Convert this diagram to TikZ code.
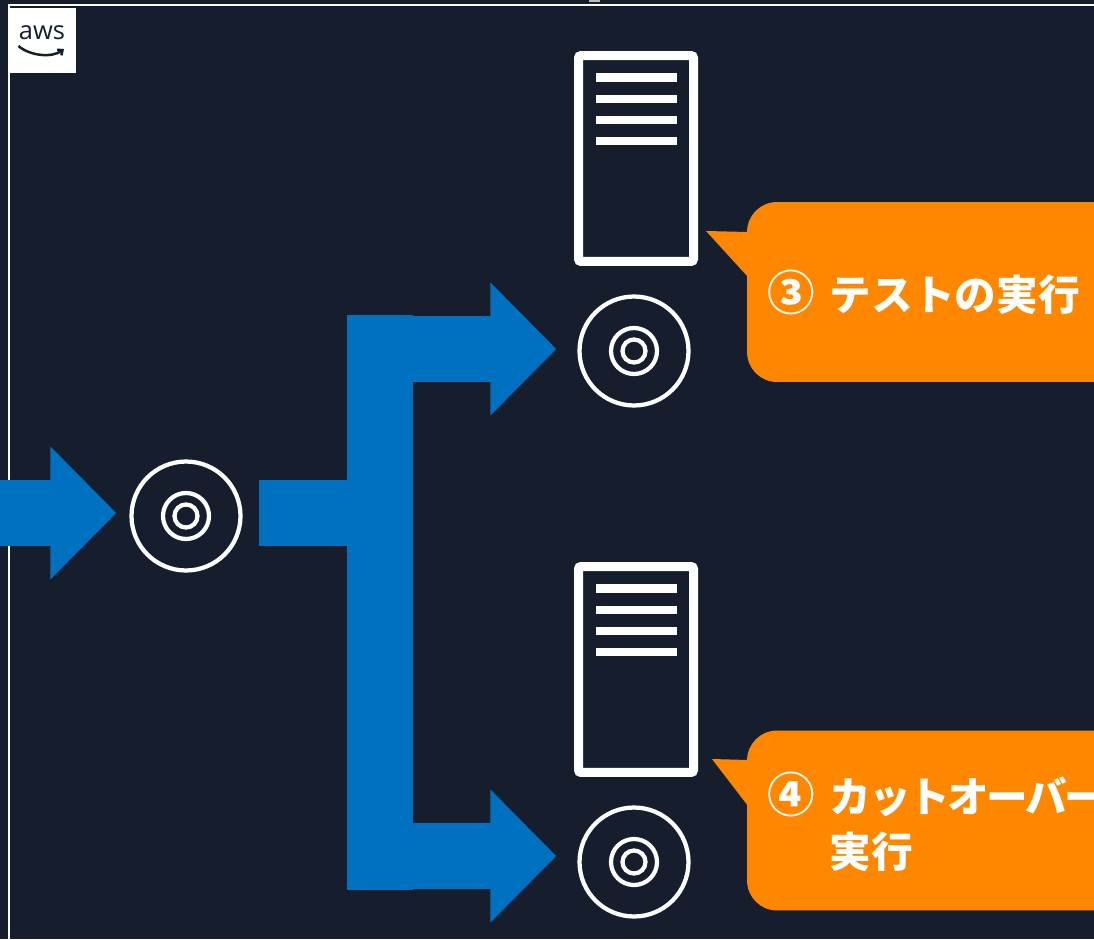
\documentclass[tikz,border=0pt]{standalone}
\usepackage{fontspec}
\setsansfont{Open Sans}
\newfontfamily\jpfont{Noto Sans CJK JP}
\usetikzlibrary{arrows.meta}

\definecolor{squid}{HTML}{161E2D}
\definecolor{flowblue}{HTML}{0070C0}
\definecolor{noteorange}{HTML}{FF8700}

\newcommand{\stepnum}[1]{\makebox[1.25cm][l]{\fontsize{27}{27}\selectfont #1}}

\tikzset{
	disc/.style={circle,draw=white,line width=0.085cm,minimum size=2.18cm,inner sep=0pt,
		path picture={
			\draw[white,line width=0.085cm] (path picture bounding box.center) circle (23);
			\draw[white,line width=0.085cm] (path picture bounding box.center) circle (11.5);
		}},
	server/.style={rectangle,draw=white,line width=0.18cm,rounded corners=0.05cm,minimum width=2.3cm,minimum height=4.12cm,inner sep=0pt,
		path picture={
			\foreach \yy in {-81,-59.5,-38.5,-17.5}
				\draw[white,line width=0.17cm] ([shift={(-40,\yy)}]path picture bounding box.center) -- ([shift={(41,\yy)}]path picture bounding box.center);
		}},
	busline/.style={flowblue,line width=1.32cm},
	bigarrow/.style={busline,-{Triangle[length=1.32cm,width=2.58cm]}},
	notebox/.style={rectangle,fill=noteorange,rounded corners=0.6cm,minimum width=10cm,minimum height=3.6cm,inner sep=0pt},
	notetext/.style={anchor=west,inner sep=0pt,text=white,align=left,font=\jpfont\bfseries\fontsize{23.7}{31.5}\selectfont}
}

\begin{document}
\begin{tikzpicture}[x=0.02cm,y=-0.02cm]
	\useasboundingbox (0,0) rectangle (1094,939);
	\clip (0,0) rectangle (1094,939);
	\fill[squid] (0,0) rectangle (1094,939);

	\draw[white,line width=0.055cm] (9,5) rectangle (1200,1000);
	\fill[white!70!squid] (589,0) rectangle (600,2);

	\node[fill=white,minimum width=1.34cm,minimum height=1.3cm,inner sep=0pt] (awslogo) at (42.5,40.5) {};
	\node[text=squid,inner sep=0pt,font=\sffamily\fontsize{14.5}{16}\selectfont] (awstext) at (42,33) {aws};
	\coordinate (smilea) at (18.5,46);
	\coordinate (smileb) at (64,49);
	\draw[squid,line width=0.05cm,-{Straight Barb[length=0.08cm,width=0.14cm]}] (smilea) .. controls (30,56) and (52,58) .. (smileb);

	\node[disc] (discb) at (186,516) {};
	\node[disc] (disca) at (634,351) {};
	\node[disc] (discc) at (634,862) {};

	\node[server] (servera) at (636,158.5) {};
	\node[server] (serverb) at (636,669.5) {};

	\coordinate (entry) at (-20,513);
	\coordinate (busmid) at (380,513);
	\coordinate (bustop) at (380,315);
	\coordinate (busbot) at (380,890);
	\coordinate (busa) at (380,349);
	\coordinate (busb) at (380,856);

	\draw[bigarrow,shorten >=0.26cm] (entry) -- (entry -| discb.west);
	\draw[busline,shorten <=0.32cm] (busmid -| discb.east) -- (busmid);
	\draw[busline] (bustop) -- (busbot);
	\draw[bigarrow,shorten >=0.42cm] (busa) -- (busa -| disca.west);
	\draw[bigarrow,shorten >=0.42cm] (busb) -- (busb -| discc.west);

	\node[notebox] (notea) at (997,292) {};
	\coordinate (tipa) at (706,231);
	\fill[noteorange] (tipa) -- (748,232) -- (748,277) -- cycle;
	\node[notetext] (labela) at (767,292) {\stepnum{③}テストの実行};

	\node[notebox] (noteb) at (997,820.5) {};
	\coordinate (tipb) at (712,759);
	\fill[noteorange] (tipb) -- (748,760) -- (748,806) -- cycle;
	\node[notetext] (labelb) at (767,822) {\stepnum{④}{\addfontfeature{LetterSpace=-6}カットオーバー}\\\stepnum{}実行};
\end{tikzpicture}
\end{document}
